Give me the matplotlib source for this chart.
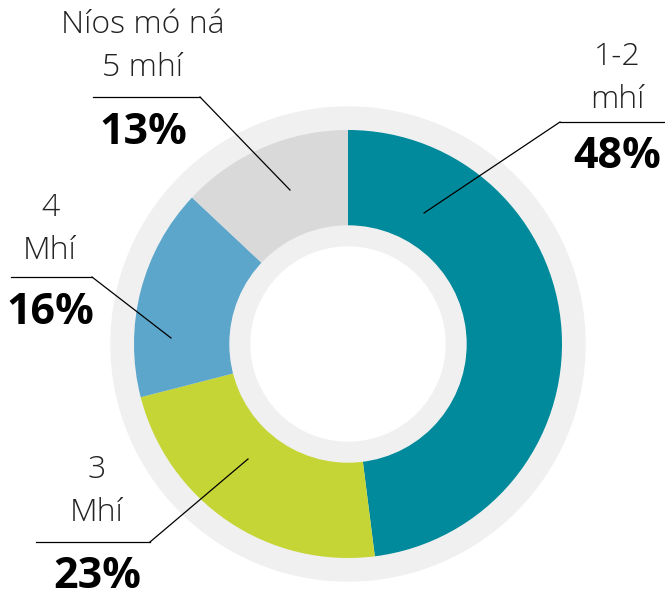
import matplotlib
matplotlib.use('Agg')
import matplotlib.pyplot as plt
from matplotlib.patches import Circle

# ── Data ──────────────────────────────────────────────────────────────────────
categories = ['1-2\nmhí', '3\nMhí', '4\nMhí', 'Níos mó ná\n5 mhí']
shares     = [48, 23, 16, 13]
colors     = ['#008a9b', '#c6d536', '#5ca6cc', '#d9d9d9']

# label layout (pixel coords, y measured from top): text centre x, first line y,
# underline x-range + y, anchor point inside slice
label_x    = [617, 97, 50, 143]
line1_y    = [57, 470, 208, 25]
under_x    = [(560, 665), (36, 150), (11, 92), (93, 200)]
under_y    = [122, 542, 277, 97]
anchor     = [(424, 213), (248, 459), (171, 338), (290, 190)]
under_knee = [560, 150, 92, 200]

W, H = 665, 596
CX, CY = 348, H - 344
RING = '#f0f0f0'

fig = plt.figure(figsize=(W / 100, H / 100), dpi=100)
ax = fig.add_axes([0, 0, 1, 1])

font = ['Open Sans', 'DejaVu Sans']

# background rings
ax.add_patch(Circle((CX, CY), 237, color=RING, zorder=0))
ax.pie(shares, radius=214, center=(CX, CY), startangle=90, counterclock=False,
       colors=colors, wedgeprops=dict(width=96, linewidth=0), frame=True)
ax.set_xlim(0, W)
ax.set_ylim(0, H)
ax.set_aspect('equal')
ax.axis('off')
ax.add_patch(Circle((CX, CY), 118, color=RING, zorder=3))
ax.add_patch(Circle((CX, CY), 97, color='white', zorder=4))

for i, cat in enumerate(categories):
    lines = cat.split('\n')
    for j, ln in enumerate(lines):
        ax.text(label_x[i], H - (line1_y[i] + j * 43), ln, ha='center', va='center',
                fontsize=23, fontweight='light', color='#222222', family=font)
    ax.text(label_x[i], H - (under_y[i] + 35), f'{shares[i]}%', ha='center',
            va='center', fontsize=31, fontweight='bold', color='black', family=font)
    x0, x1 = under_x[i]
    ax.plot([x0, x1], [H - under_y[i], H - under_y[i]], color='black', lw=0.9, zorder=6)
    ax.plot([under_knee[i], anchor[i][0]], [H - under_y[i], H - anchor[i][1]],
            color='black', lw=0.9, zorder=6)

plt.savefig('out.png', dpi=100)
plt.close()
